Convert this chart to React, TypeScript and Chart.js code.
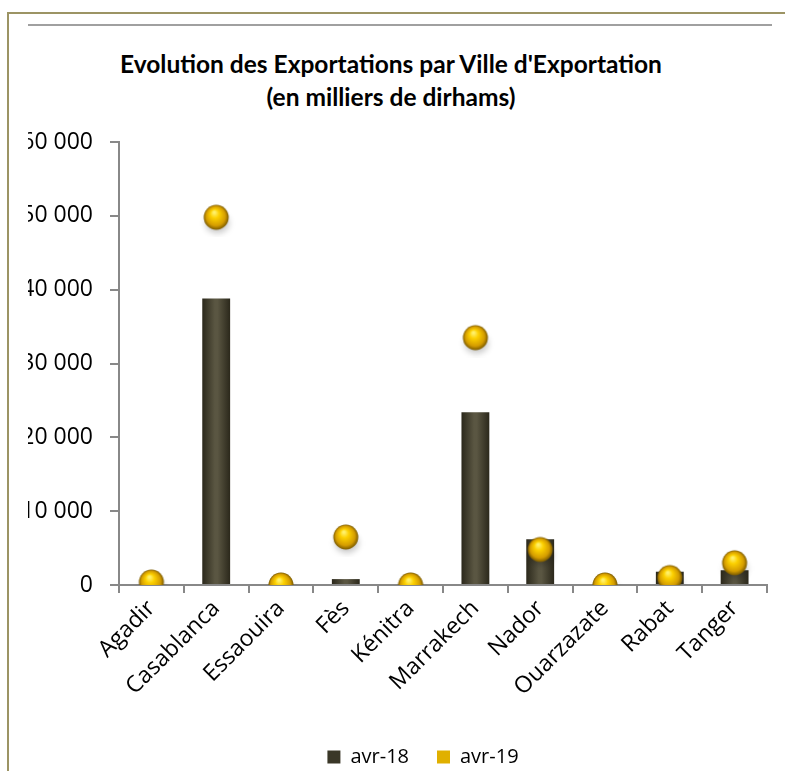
import React, { useEffect, useRef } from "react";
import { Chart, registerables } from "chart.js";

Chart.register(...registerables);

const categories = ["Agadir", "Casablanca", "Essaouira", "Fès", "Kénitra", "Marrakech", "Nador", "Ouarzazate", "Rabat", "Tanger"];
const avr18 = [0, 38800, 0, 800, 0, 23400, 6200, 0, 1800, 2000];
const avr19 = [400, 49800, 0, 6500, 0, 33500, 4800, 0, 1000, 3000];
const seriesNames = ["avr-18", "avr-19"];
const titleLines = ["Evolution des Exportations par Ville d'Exportation", "(en milliers de dirhams)"];

const fmt = (v: number) => String(v).replace(/\B(?=(\d{3})+(?!\d))/g, " ");

function makeSphere(): HTMLCanvasElement {
  const s = 40;
  const c = document.createElement("canvas");
  c.width = s;
  c.height = s;
  const g = c.getContext("2d")!;
  const cx = 20, cy = 20, r = 12.5;
  g.save();
  g.filter = "blur(3px)";
  g.fillStyle = "rgba(0,0,0,0.22)";
  g.beginPath();
  g.ellipse(cx + 1, cy + 6, r * 0.95, r * 0.8, 0, 0, Math.PI * 2);
  g.fill();
  g.restore();
  const grad = g.createRadialGradient(cx - 2, cy - 5, 1, cx, cy, r);
  grad.addColorStop(0, "#fff06a");
  grad.addColorStop(0.3, "#fcd000");
  grad.addColorStop(0.75, "#d49c00");
  grad.addColorStop(1, "#7a5a00");
  g.fillStyle = grad;
  g.beginPath();
  g.arc(cx, cy, r, 0, Math.PI * 2);
  g.fill();
  return c;
}

export default function App() {
  const ref = useRef<HTMLCanvasElement | null>(null);
  useEffect(() => {
    if (!ref.current) return;
    const sphere = makeSphere();
    const barColor = (ctx: any) => {
      const el: any = ctx.element;
      if (ctx.type !== "data" || !el || typeof el.x !== "number" || !el.width) return "#45412f";
      const g = ctx.chart.ctx.createLinearGradient(el.x - el.width / 2, 0, el.x + el.width / 2, 0);
      g.addColorStop(0, "#2b281b");
      g.addColorStop(0.45, "#5a5642");
      g.addColorStop(0.55, "#5a5642");
      g.addColorStop(1, "#2b281b");
      return g;
    };
    const chart = new Chart(ref.current, {
      type: "bar",
      data: {
        labels: categories,
        datasets: [
          {
            type: "bar",
            label: seriesNames[0],
            data: avr18,
            backgroundColor: barColor,
            borderWidth: 0,
            barPercentage: 0.43,
            categoryPercentage: 1,
            order: 2,
          } as any,
          {
            type: "line",
            label: seriesNames[1],
            data: avr19,
            showLine: false,
            pointStyle: sphere,
            pointRadius: 12,
            backgroundColor: "#e8b800",
            borderColor: "#e8b800",
            borderWidth: 0,
            order: 1,
          } as any,
        ],
      },
      options: {
        animation: false,
        responsive: false,
        maintainAspectRatio: false,
        layout: { padding: { top: 142, left: 0, right: 0, bottom: 0 } },
        plugins: {
          title: { display: false },
          tooltip: { enabled: false },
          legend: {
            position: "bottom",
            labels: {
              font: { family: "'Open Sans'", size: 20 },
              color: "#000",
              boxWidth: 13,
              boxHeight: 13,
              padding: 28,
              generateLabels: () => [
                { text: seriesNames[0], fillStyle: "#3a3727", strokeStyle: "#3a3727", lineWidth: 0, datasetIndex: 0, fontColor: "#000" } as any,
                { text: seriesNames[1], fillStyle: "#e0b000", strokeStyle: "#e0b000", lineWidth: 0, datasetIndex: 1, fontColor: "#000" } as any,
              ],
            },
          },
        },
        scales: {
          x: {
            grid: { display: true, drawOnChartArea: false, drawTicks: true, tickLength: 8, color: "#888", lineWidth: 2, offset: true },
            border: { display: true, color: "#888", width: 2 },
            ticks: {
              autoSkip: false,
              maxRotation: 45,
              minRotation: 45,
              font: { family: "'Open Sans'", size: 23 },
              color: "#000",
              padding: 2,
            },
            afterFit: (s: any) => {
              s.height = 134;
            },
          },
          y: {
            min: 0,
            max: 60000,
            grid: { display: true, drawOnChartArea: false, drawTicks: true, tickLength: 9, color: "#888", lineWidth: 2 },
            border: { display: true, color: "#888", width: 2 },
            ticks: {
              stepSize: 10000,
              font: { family: "'Open Sans'", size: 23 },
              color: "#000",
              padding: 17,
              callback: (v: any) => fmt(Number(v)),
            },
            afterFit: (s: any) => {
              s.width = 91;
            },
          },
          yPad: {
            position: "right",
            display: true,
            grid: { display: false },
            border: { display: false },
            ticks: { display: false },
            afterFit: (s: any) => {
              s.width = 51;
            },
          },
        },
      } as any,
    });
    chart.update();
    return () => chart.destroy();
  }, []);

  return (
    <div style={{ position: "fixed", left: 0, top: 0, width: 785, height: 771, overflow: "hidden", background: "#fff" }}>
      <div style={{ position: "absolute", left: 7, top: 12, width: 900, height: 900, borderLeft: "2px solid #9c9464", borderTop: "2px solid #9c9464" }} />
      <div style={{ position: "absolute", left: 28, top: 24, width: 744, height: 1.5, background: "#a0a0a0" }} />
      <div
        style={{
          position: "absolute",
          left: 0,
          top: 47,
          width: 782,
          textAlign: "center",
          fontFamily: "Lato, 'Open Sans', sans-serif",
          fontWeight: 700,
          fontSize: 24.5,
          lineHeight: "33px",
          color: "#000",
        }}
      >
        {titleLines.map((t, i) => (
          <div key={i}>{t}</div>
        ))}
      </div>
      <div style={{ position: "absolute", left: 28, top: 0, width: 757, height: 771, overflow: "hidden" }}>
        <canvas ref={ref} width={790} height={777} style={{ position: "absolute", left: 0, top: 0, width: 790, height: 777 }} />
      </div>
    </div>
  );
}
